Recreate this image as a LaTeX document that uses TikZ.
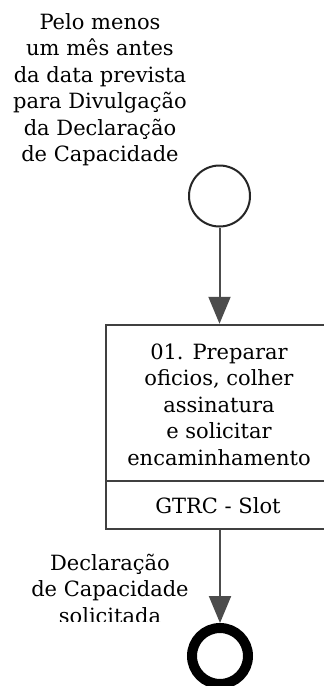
\documentclass[tikz,border=0pt]{standalone}
\usepackage{fontspec}
\setmainfont{DejaVu Serif}
\usetikzlibrary{arrows.meta}
\newcommand{\firststrut}{\rule{0pt}{20pt}}
\begin{document}
\begin{tikzpicture}[x=1pt,y=-1pt,
  lbl/.style={align=center,font=\fontsize{21}{26.5}\selectfont,inner sep=0pt,anchor=north},
  conn/.style={draw=black!70,line width=2pt,-{Triangle[length=27pt,width=22pt]}},
  startev/.style={circle,draw=black!85,line width=2pt,minimum size=61pt,inner sep=0pt},
  endev/.style={circle,draw=black,line width=10pt,minimum size=56pt,inner sep=0pt},
  taskbox/.style={rectangle,draw=black!75,line width=2.5pt,minimum width=226pt,minimum height=204pt,inner sep=0pt},
]
\useasboundingbox (0,0) rectangle (324,686);
\fill[white] (0,0) rectangle (324,686);
% start text
\node[lbl] (starttxt) at (100,9) {\firststrut Pelo menos\\um mês antes\\da data prevista\\para Divulgação\\da Declaração\\de Capacidade};
% start event
\node[startev] (start) at (219.5,196) {};
% task
\node[taskbox] (task) at (219,427) {};
\coordinate (divl) at (106,481);
\coordinate (divr) at (332,481);
\draw[draw=black!75,line width=2pt] (divl) -- (divr);
\node[lbl] (tasktxt) at (219,339) {\firststrut 01. Preparar\\oficios, colher\\assinatura\\e solicitar\\encaminhamento};
\node[lbl] (role) at (218,493) {\firststrut GTRC - Slot};
% end event
\node[endev] (end) at (220,656) {};
% label clipped
\begin{scope}
\clip (0,0) rectangle (324,621);
\node[lbl] (endtxt) at (110,550) {\firststrut Declaração\\de Capacidade\\solicitada};
\end{scope}
% connectors
\draw[conn] (start) -- (task.north -| start);
\draw[conn] (task.south -| end) -- (end);
\end{tikzpicture}
\end{document}
